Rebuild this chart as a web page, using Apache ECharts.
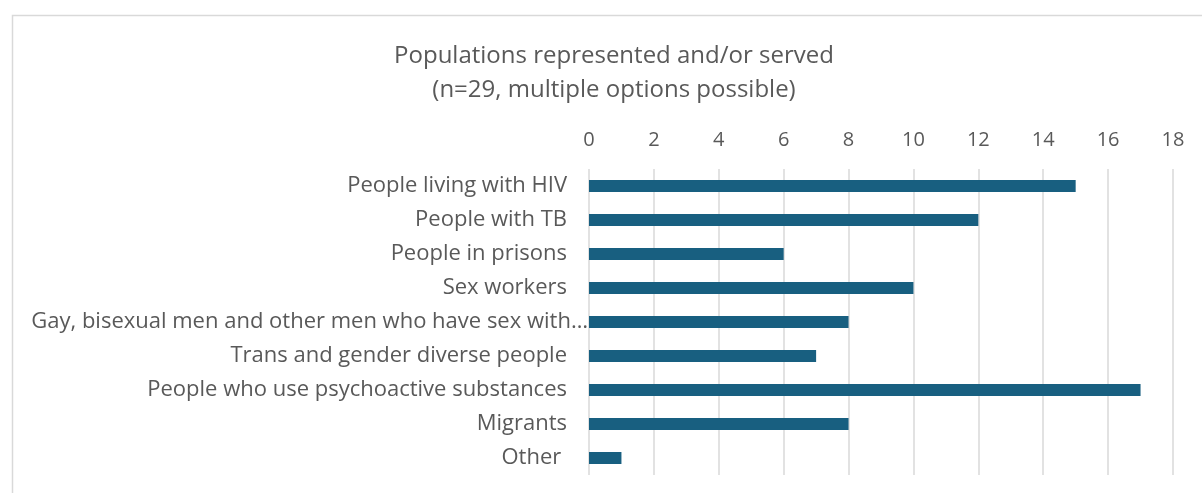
<!DOCTYPE html>
<html>
<head>
<meta charset="utf-8">
<script src="https://cdn.jsdelivr.net/npm/echarts@6/dist/echarts.min.js"></script>
<style>html,body{margin:0;padding:0;background:#fff;}#c{width:1202px;height:493px;}</style>
</head>
<body>
<div id="c"></div>
<script>
const categories = [
  "People living with HIV",
  "People with TB",
  "People in prisons",
  "Sex workers",
  "Gay, bisexual men and other men who have sex with\u2026",
  "Trans and gender diverse people",
  "People who use psychoactive substances",
  "Migrants",
  "Other "
];
const values = [15, 12, 6, 10, 8, 7, 17, 8, 1];
const titleText = "Populations represented and/or served\n(n=29, multiple options possible)";

const labelFont = {fontFamily: 'Open Sans', fontSize: 22, color: '#595959'};
const chart = echarts.init(document.getElementById('c'), null, {renderer: 'canvas'});
chart.setOption({
  animation: false,
  backgroundColor: '#fff',
  graphic: [{
    type: 'rect',
    shape: {x: 12.5, y: 15.5, width: 1300, height: 600},
    style: {fill: 'none', stroke: '#d9d9d9', lineWidth: 1.5},
    silent: true
  }],
  title: {
    text: titleText,
    left: 609, top: 34, textAlign: 'center',
    textStyle: {fontFamily: 'Open Sans', fontSize: 24, fontWeight: 'normal', color: '#595959', lineHeight: 34}
  },
  grid: {left: 589, right: 29, top: 169, bottom: 18, containLabel: false},
  xAxis: {
    type: 'value', position: 'top', min: 0, max: 18, interval: 2,
    axisLine: {show: false}, axisTick: {show: false},
    splitLine: {show: true, lineStyle: {color: '#d9d9d9', width: 1.5}},
    axisLabel: {margin: 19, fontFamily: 'Open Sans', fontSize: 20, color: '#595959'}
  },
  yAxis: {
    type: 'category', data: categories, inverse: true,
    axisLine: {show: false}, axisTick: {show: false},
    axisLabel: {
      margin: 1,
      fontFamily: 'Open Sans', fontSize: 22, color: '#595959',
      formatter: function (v, i) { return i === 4 ? '{g|' + v + '}' : '{a|' + v + '}'; },
      rich: {
        a: Object.assign({padding: [0, 21, 0, 0]}, labelFont),
        g: Object.assign({padding: [0, 0, 0, 0]}, labelFont)
      }
    }
  },
  series: [{
    type: 'bar', data: values, barWidth: 12,
    itemStyle: {color: '#185F80'}
  }]
});
</script>
</body>
</html>
